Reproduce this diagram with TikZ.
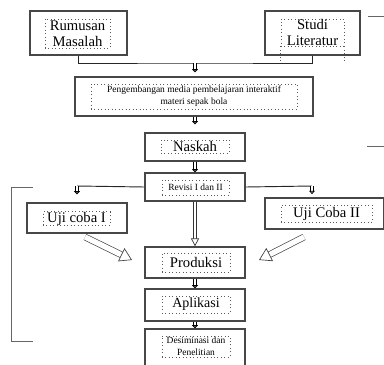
\documentclass[tikz,border=0pt]{standalone}
\usepackage{fontspec}
\setmainfont{Liberation Serif}
\usetikzlibrary{arrows.meta}

\newcommand{\besar}{\fontsize{11}{12}\selectfont}
\newcommand{\sedang}{\fontsize{10.5}{11}\selectfont}
\newcommand{\kecil}{\fontsize{7.1}{9}\selectfont}

\tikzset{
  ukuran/.style 2 args={minimum width=#1*0.75pt, minimum height=#2*0.75pt},
  kotak/.style={draw=black!72, line width=0.9pt, fill=white, inner sep=0pt},
  isi/.style={draw=black!65, dotted, line width=0.6pt, align=center, inner sep=0pt},
  garis/.style={draw=black!85, line width=0.7pt},
  garisAbu/.style={draw=black!60, line width=0.7pt},
  panah/.style={draw=black, line width=0.6pt, double=white, double distance=1.2pt,
    -{Triangle[open, fill=white, length=2.4pt, width=4.4pt]}},
  panahPanjang/.style={draw=black!80, line width=0.5pt, double=white, double distance=1.8pt,
    -{Triangle[open, fill=white, length=6pt, width=6pt]}},
  panahBlok/.style={draw=black!75, line width=0.5pt, double=white, double distance=4pt,
    -{Triangle[open, fill=white, length=9pt, width=11pt]}}
}

\begin{document}
\begin{tikzpicture}[x=0.75pt, y=-0.75pt]
    \useasboundingbox (0,0) rectangle (384,364);

    % Kotak atas
    \node[kotak, ukuran={97}{44}] (rumusan) at (78.5,33) {};
    \node[isi, ukuran={65}{29}, font=\besar] (rumusanTeks) at (77.5,33.5) {Rumusan\\Masalah};
    \node[kotak, ukuran={95}{44}] (studi) at (312.5,33) {};
    \node[isi, ukuran={63}{27}, font=\besar] (studiTeks) at (312.5,32.5) {Studi\\Literatur};
    \draw[isi] (studiTeks.south west) -- ++(0,14);
    \draw[isi] (studiTeks.south east) -- ++(0,14);
    \draw[garisAbu] (368,16) -- (384,16);

    \coordinate (gabung) at (195,63);
    \draw[garis] (rumusan.south) |- (gabung) -| (studi.south);

    % Pengembangan media
    \node[kotak, ukuran={238}{39}] (pengembangan) at (194,96.5) {};
    \node[isi, ukuran={206}{25}, font=\kecil] (pengembanganTeks) at (194,96.5)
      {Pengembangan media pembelajaran interaktif\\materi sepak bola};
    \draw[panah, shorten >=3pt] (gabung) -- (gabung |- pengembangan.north);

    % Kolom tengah
    \node[kotak, ukuran={100}{28}] (naskah) at (195,147) {};
    \node[isi, ukuran={68}{13}, font=\besar] (naskahTeks) at (195,146.5) {Naskah};
    \draw[panah, shorten >=6pt] (naskah.north |- pengembangan.south) -- (naskah.north);
    \draw[garisAbu] (367,146) -- (384,146);

    \node[kotak, ukuran={100}{28}] (revisi) at (195,187) {};
    \node[isi, ukuran={67}{15}, font=\kecil] (revisiTeks) at (195.5,187.5) {Revisi I dan II};
    \draw[panah] (naskah.south) -- (revisi.north);

    % Uji coba
    \node[kotak, ukuran={100}{30}] (ujiSatu) at (77,218) {};
    \node[isi, ukuran={67}{13}, font=\besar] (ujiSatuTeks) at (76.5,218.5) {Uji coba I};
    \node[kotak, ukuran={119}{31}] (ujiDua) at (324.5,213.5) {};
    \node[isi, ukuran={91}{17}, font=\besar] (ujiDuaTeks) at (326.5,213.5) {Uji Coba II};

    \coordinate (kiri) at (77,186);
    \coordinate (kanan) at (312,186);
    \draw[garis] (revisi.west) -- (kiri);
    \draw[garis] (revisi.east) -- (kanan);
    \draw[panah, shorten >=6pt] (kiri) -- (kiri |- ujiSatu.north);
    \draw[panah, shorten >=2.5pt] (kanan) -- (kanan |- ujiDua.north);

    % Produksi sampai desiminasi
    \node[kotak, ukuran={100}{31}] (produksi) at (195,262.5) {};
    \node[isi, ukuran={68}{19}, font=\besar] (produksiTeks) at (196,262.5) {Produksi};
    \draw[panahPanjang] (revisi.south) -- (produksi.north);

    \coordinate (blokKiriA) at (85,237);
    \coordinate (blokKiriB) at (132,260);
    \coordinate (blokKananA) at (304,237);
    \coordinate (blokKananB) at (259,260);
    \draw[panahBlok] (blokKiriA) -- (blokKiriB);
    \draw[panahBlok] (blokKananA) -- (blokKananB);

    \node[kotak, ukuran={100}{32}] (aplikasi) at (195,305) {};
    \node[isi, ukuran={68}{17}, font=\sedang] (aplikasiTeks) at (196,304.5) {Aplikasi};
    \draw[panah] (produksi.south) -- (aplikasi.north);

    \node[kotak, ukuran={100}{38}] (desiminasi) at (195,348) {};
    \node[isi, ukuran={68}{21}, font=\kecil] (desiminasiTeks) at (196,346.5) {Desiminasi dan\\Penelitian};
    \draw[panah] (aplikasi.south) -- (desiminasi.north);

    % Garis kurung kiri
    \coordinate (kurungAtas) at (33,187);
    \coordinate (kurungBawah) at (33,341);
    \draw[garisAbu] (kurungAtas) -- (11,187) -- (11,341) -- (kurungBawah);
\end{tikzpicture}
\end{document}
